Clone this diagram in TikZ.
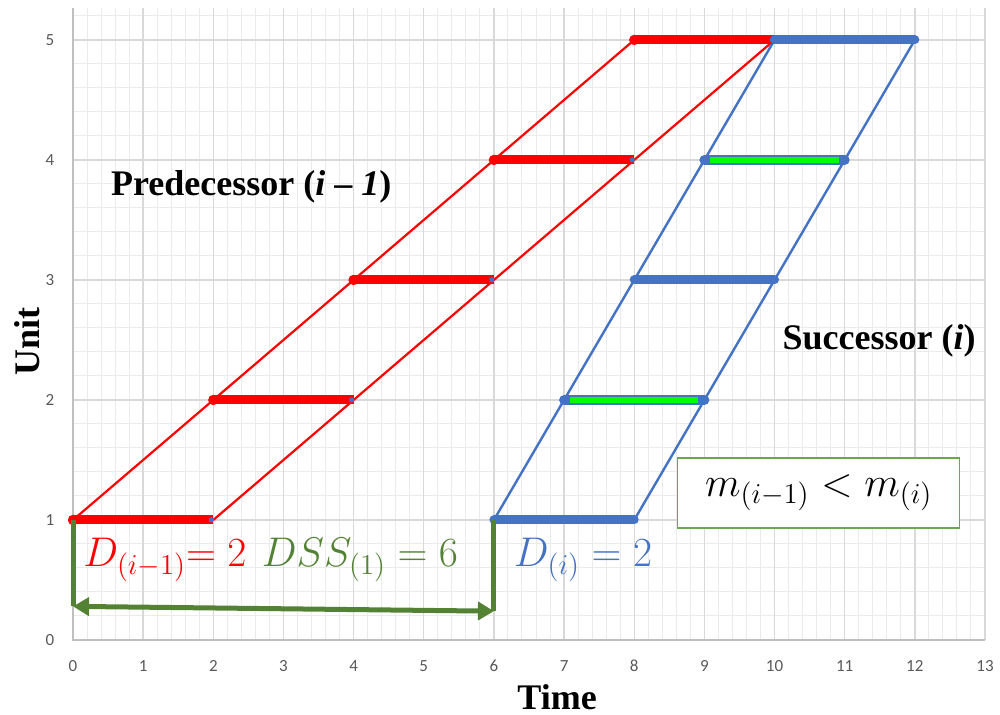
\documentclass[tikz,border=0pt]{standalone}
\usepackage{amsmath,amssymb}
\usepackage{xcolor}
\usepackage{fontspec}
\setmainfont{Liberation Serif}
\newfontfamily\tickfont{Carlito}
\usepackage{tikz}
\usetikzlibrary{arrows.meta}

\definecolor{predred}{HTML}{FF0000}
\definecolor{succblue}{HTML}{4472C4}
\definecolor{brightgreen}{HTML}{00FF00}
\definecolor{dssgreen}{HTML}{548235}
\definecolor{boxgreen}{HTML}{6AA84F}
\definecolor{gridminor}{HTML}{EBEBEB}
\definecolor{gridmajor}{HTML}{D9D9D9}
\definecolor{axisgray}{HTML}{BFBFBF}
\definecolor{ticktext}{HTML}{595959}

\begin{document}
\begin{tikzpicture}[x=35.075pt,y=60pt,
  minorline/.style={gridminor,line width=0.5pt},
  majorline/.style={gridmajor,line width=0.7pt},
  tick/.style={text=ticktext,font=\tickfont\fontsize{8.5}{10}\selectfont},
  title/.style={font=\bfseries\fontsize{18}{20}\selectfont},
  duration/.style={font=\fontsize{21.5}{24}\selectfont},
  linkred/.style={predred,line width=1.1pt},
  linkblue/.style={succblue,line width=1.2pt},
  barred/.style={predred,line width=4.5pt},
  barblue/.style={succblue,line width=4.5pt,line cap=round},
  bargreen/.style={brightgreen,line width=3.4pt},
  dssarrow/.style={dssgreen,line width=2.5pt}]
\useasboundingbox (-1.0406,-0.625) rectangle (13.214,5.333);
% chart grid, 0.2 minor and 1 major
\draw[minorline] (0,0) grid[xstep=0.2,ystep=0.2] (13,5.267);
\draw[majorline] (0,0) grid[xstep=1,ystep=1] (13,5.267);
\draw[axisgray,line width=0.8pt] (0,5.267) -- (0,0) -- (13,0);
% tick labels
\foreach \t in {0,...,13} \node[tick] (xt\t) at (\t,-0.217) {\t};
\foreach \u in {0,...,5} \node[tick] (yt\u) at (-0.33,\u) {\u};
\node[title,rotate=90] (ylab) at (-0.647,2.49) {Unit};
\node[title] (xlab) at (6.9,-0.475) {Time};
% predecessor (i-1): one unit every 2 time steps
\coordinate (ra1) at (0,1);  \coordinate (rb1) at (2,1);
\coordinate (ra2) at (2,2);  \coordinate (rb2) at (4,2);
\coordinate (ra3) at (4,3);  \coordinate (rb3) at (6,3);
\coordinate (ra4) at (6,4);  \coordinate (rb4) at (8,4);
\coordinate (ra5) at (8,5);  \coordinate (rb5) at (10,5);
% successor (i)
\coordinate (ba1) at (6,1);  \coordinate (bb1) at (8,1);
\coordinate (ba2) at (7,2);  \coordinate (bb2) at (9,2);
\coordinate (ba3) at (8,3);  \coordinate (bb3) at (10,3);
\coordinate (ba4) at (9,4);  \coordinate (bb4) at (11,4);
\coordinate (ba5) at (10,5); \coordinate (bb5) at (12,5);
% thin progress lines
\draw[linkred] (ra1) -- (ra5);
\draw[linkred] (rb1) -- (rb5);
\draw[linkblue] (ba1) -- (ba5);
\draw[linkblue] (bb1) -- (bb5);
% red bars, round dot at start
\foreach \k in {1,...,5} {
  \draw[barred] (ra\k) -- (rb\k);
  \fill[predred] (ra\k) circle (2.6pt);
  \fill[succblue] ([xshift=-1pt]rb\k) circle (1.3pt);
}
% blue bars
\draw[barblue] (ba1) -- (bb1);
\draw[barblue] (ba3) -- (bb3);
\draw[barblue] (ba5) -- (bb5);
% green bars with blue rim
\draw[succblue,line width=5pt,line cap=round] (ba2) -- (bb2);
\draw[bargreen] ([xshift=3pt]ba2) -- ([xshift=-3pt]bb2);
\draw[succblue,line width=5pt,line cap=round] (ba4) -- (bb4);
\draw[bargreen] ([xshift=3pt]ba4) -- ([xshift=-3pt]bb4);
% group titles
\node[title] (pred) at (2.54,3.775) {Predecessor (\textit{i} -- \textit{1})};
\node[title] (succ) at (11.49,2.49) {Successor (\textit{i})};
% DSS bracket between the two first starts
\coordinate (dl) at (0,0.28);
\coordinate (dr) at (6,0.24);
\draw[dssarrow] (ra1) -- (dl);
\draw[dssarrow] (ba1) -- (dr);
\draw[dssarrow,{Triangle[length=8pt,width=9pt]}-{Triangle[length=8pt,width=9pt]}] (dl) -- (dr);
% duration labels
\node[duration,text=predred] (dpred) at (1.31,0.667) {$D_{(i-1)}{=}\;2$};
\node[duration,text=dssgreen] (dss) at (4.09,0.667) {$DSS_{(1)}=6$};
\node[duration,text=succblue] (dsucc) at (7.27,0.667) {$D_{(i)}=2$};
% comparison box
\node[draw=boxgreen,line width=0.7pt,fill=white,minimum width=141pt,minimum height=35pt,
  duration] (cmp) at (10.63,1.225) {$m_{(i-1)}<m_{(i)}$};
\end{tikzpicture}
\end{document}
